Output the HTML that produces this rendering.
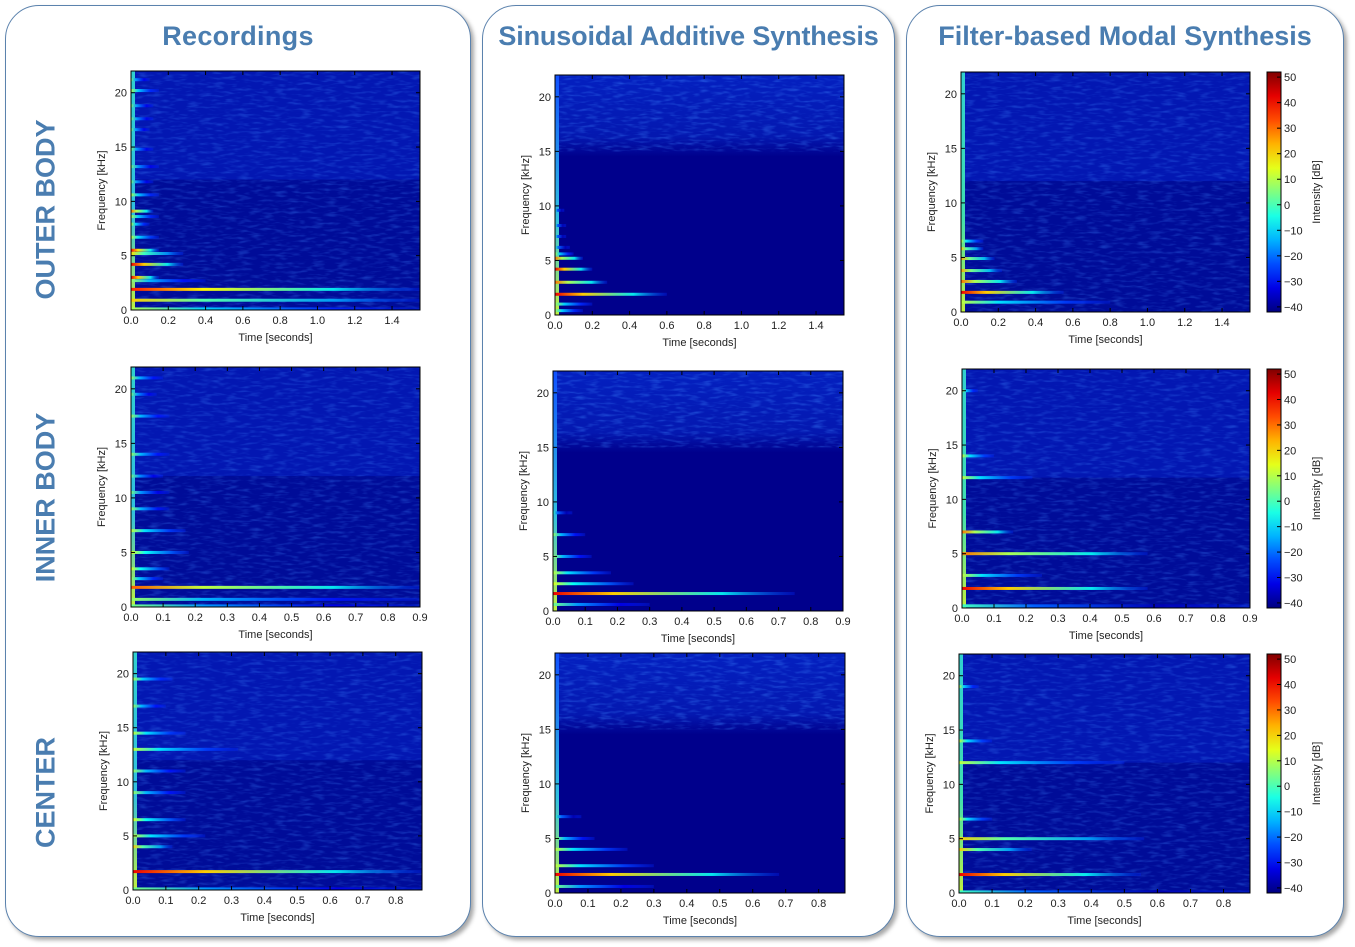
<!DOCTYPE html>
<html><head><meta charset="utf-8">
<style>
html,body{margin:0;padding:0;background:#fff;}
body{width:1355px;height:947px;position:relative;overflow:hidden;font-family:"Liberation Sans",sans-serif;}
.panel{position:absolute;border:1.5px solid #5b82ad;border-radius:34px;box-shadow:3px 3px 4px rgba(0,0,0,0.35);background:#fff;}
.title{position:absolute;top:21px;font-weight:bold;font-size:27px;letter-spacing:0.3px;color:#4a7db0;text-align:center;white-space:nowrap;}
.rowlab{position:absolute;font-weight:bold;font-size:27px;color:#4a7db0;transform:rotate(-90deg);transform-origin:center;white-space:nowrap;text-align:center;width:240px;}
svg{position:absolute;left:0;top:0;}
</style></head><body>
<div class="panel" style="left:5px;top:5px;width:464px;height:930px;"></div>
<div class="panel" style="left:482px;top:5px;width:411px;height:930px;"></div>
<div class="panel" style="left:906px;top:5px;width:436px;height:930px;"></div>
<div class="title" style="left:5px;width:466px;">Recordings</div>
<div class="title" style="left:482px;width:413px;letter-spacing:-0.15px;">Sinusoidal Additive Synthesis</div>
<div class="title" style="left:906px;width:438px;letter-spacing:0px;">Filter-based Modal Synthesis</div>
<div class="rowlab" style="left:-74px;top:194px;">OUTER BODY</div>
<div class="rowlab" style="left:-74px;top:482px;">INNER BODY</div>
<div class="rowlab" style="left:-74px;top:777px;">CENTER</div>
<svg id="chart" width="1355" height="947">
<defs>
<filter id="noise" x="0" y="0" width="100%" height="100%">
<feTurbulence type="fractalNoise" baseFrequency="0.08 0.35" numOctaves="2" seed="3"/>
<feColorMatrix type="matrix" values="0 0 0 0 0.05  0 0 0 0 0.25  0 0 0 0 1  0 0 0 1.6 -0.75"/>
</filter>
<linearGradient id="sinfade" x1="0" y1="0" x2="0" y2="1">
<stop offset="0" stop-color="#0420c0"/><stop offset="0.75" stop-color="#0418b0"/><stop offset="1" stop-color="#00008c"/>
</linearGradient>
</defs>
</svg>
<script>
// partials: [freq kHz, decay seconds, peak dB]
const recOuter=[[0.1,1.55,10],[0.9,1.55,22],[1.9,1.55,38],[2.7,0.4,8],[3.0,0.15,42],[4.2,0.28,42],[5.2,0.28,20],[5.5,0.15,40],[6.7,0.15,12],[7.9,0.1,10],[8.6,0.15,10],[9.1,0.12,30],[10.6,0.15,10],[11.8,0.12,5],[13.2,0.15,5],[14.8,0.12,5],[16.6,0.1,5],[17.6,0.12,5],[18.8,0.12,5],[20.2,0.15,10],[21.2,0.1,5]];
const sinOuter=[[0.4,0.15,10],[1.0,0.2,10],[1.9,0.6,42],[3.0,0.28,30],[4.2,0.2,42],[5.2,0.15,30],[5.6,0.1,10],[6.2,0.08,0],[7.2,0.06,0],[8.2,0.06,0],[9.6,0.05,0]];
const modOuter=[[0.9,0.8,12],[1.8,0.55,42],[2.8,0.3,30],[3.8,0.22,25],[4.9,0.18,25],[5.8,0.12,22],[6.5,0.12,12]];
const recInner=[[0.1,0.9,5],[0.7,0.9,8],[1.8,0.9,32],[2.6,0.1,10],[3.5,0.12,15],[5.0,0.18,15],[7.0,0.17,12],[9.0,0.12,8],[10.5,0.12,5],[12.0,0.1,5],[14.0,0.12,8],[17.5,0.12,8],[19.5,0.08,5],[21.0,0.1,8]];
const sinInner=[[0.6,0.3,5],[1.6,0.75,42],[2.5,0.25,15],[3.5,0.18,12],[5.0,0.12,8],[7.0,0.1,8],[9.0,0.06,0]];
const modInner=[[0.2,0.9,0],[1.8,0.58,42],[3.0,0.25,12],[5.0,0.58,30],[7.0,0.16,30],[12.0,0.22,12],[14.0,0.1,12],[20.0,0.05,10]];
const recCenter=[[0.1,0.88,5],[1.7,0.88,42],[4.0,0.12,22],[5.0,0.22,12],[6.5,0.16,15],[9.0,0.16,8],[11.0,0.16,8],[13.0,0.32,12],[14.5,0.16,12],[17.0,0.1,8],[19.5,0.12,10]];
const sinCenter=[[0.6,0.3,5],[1.7,0.68,42],[2.5,0.3,12],[4.0,0.22,12],[5.0,0.12,8],[7.0,0.08,0]];
const modCenter=[[0.1,0.88,0],[1.7,0.55,42],[4.0,0.22,22],[5.0,0.56,22],[6.8,0.1,12],[12.0,0.5,12],[14.0,0.1,12],[19.0,0.06,10]];
const xticksLong=[0.0,0.2,0.4,0.6,0.8,1.0,1.2,1.4];
const xticks09=[0.0,0.1,0.2,0.3,0.4,0.5,0.6,0.7,0.8,0.9];
const xticks08=[0.0,0.1,0.2,0.3,0.4,0.5,0.6,0.7,0.8];
const yticks=[0,5,10,15,20];
const cbTicks=[50,40,30,20,10,0,-10,-20,-30,-40];

const plots=[
 {name:'rec-outer',x:131,y:71,w:289,h:239,xmax:1.55,xt:xticksLong,p:recOuter,kind:'rec'},
 {name:'sin-outer',x:555,y:75,w:289,h:240,xmax:1.55,xt:xticksLong,p:sinOuter,kind:'sin'},
 {name:'mod-outer',x:961,y:72,w:289,h:240,xmax:1.55,xt:xticksLong,p:modOuter,kind:'mod',cb:1267},
 {name:'rec-inner',x:131,y:367,w:289,h:240,xmax:0.9,xt:xticks09,p:recInner,kind:'rec'},
 {name:'sin-inner',x:553,y:371,w:290,h:240,xmax:0.9,xt:xticks09,p:sinInner,kind:'sin'},
 {name:'mod-inner',x:962,y:369,w:288,h:239,xmax:0.9,xt:xticks09,p:modInner,kind:'mod',cb:1267},
 {name:'rec-center',x:133,y:652,w:289,h:238,xmax:0.88,xt:xticks08,p:recCenter,kind:'rec'},
 {name:'sin-center',x:555,y:653,w:290,h:240,xmax:0.88,xt:xticks08,p:sinCenter,kind:'sin'},
 {name:'mod-center',x:959,y:654,w:291,h:239,xmax:0.88,xt:xticks08,p:modCenter,kind:'mod',cb:1267}
];
const YMAX=22;
const svg=document.getElementById('chart');
const NS='http://www.w3.org/2000/svg';
function mk(tag,attrs,parent){const e=document.createElementNS(NS,tag);for(const k in attrs)e.setAttribute(k,attrs[k]);(parent||svg).appendChild(e);return e;}
function jet(v){v=Math.max(0,Math.min(1,v));
 const r=Math.max(0,Math.min(1,1.5-Math.abs(4*v-3))),g=Math.max(0,Math.min(1,1.5-Math.abs(4*v-2))),b=Math.max(0,Math.min(1,1.5-Math.abs(4*v-1)));
 return 'rgb('+Math.round(r*255)+','+Math.round(g*255)+','+Math.round(b*255)+')';}
function dbc(db){return jet((db+40)/92);}
const defs=svg.querySelector('defs');
let gid=0;
plots.forEach(P=>{
 const g=mk('g',{});
 
 
 const xs=t=>P.x+t/P.xmax*P.w, ys=f=>P.y+P.h-f/YMAX*P.h;
 const clip=mk('clipPath',{id:'c'+P.name},defs);mk('rect',{x:P.x,y:P.y,width:P.w,height:P.h},clip);
 const area=mk('g',{'clip-path':'url(#c'+P.name+')'},g);
 mk('rect',{x:P.x,y:P.y,width:P.w,height:P.h,fill:P.kind==='sin'?'#00008c':'#000c98'},area);
 if(P.kind==='sin'){mk('rect',{x:P.x,y:P.y,width:P.w,height:ys(14.5)-P.y,fill:'url(#sinfade)'},area);
  mk('rect',{x:P.x,y:P.y,width:P.w,height:ys(15)-P.y,fill:'#000',filter:'url(#noise)',opacity:0.6},area);}
 else{mk('rect',{x:P.x,y:P.y,width:P.w,height:ys(12)-P.y,fill:'#0620c8',opacity:0.55},area);
  mk('rect',{x:P.x,y:P.y,width:P.w,height:P.h,fill:'#000',filter:'url(#noise)',opacity:0.5},area);}
 const sg='g'+(gid++);const lg=mk('linearGradient',{id:sg,x1:0,y1:0,x2:0,y2:1},defs);
 mk('stop',{offset:0,'stop-color':P.kind==='sin'?'#1050ff':'#30d0d0'},lg);
 mk('stop',{offset:0.6,'stop-color':P.kind==='mod'?'#40e0b0':'#30c0e0'},lg);
 mk('stop',{offset:1,'stop-color':'#c0f040'},lg);
 mk('rect',{x:P.x,y:P.y,width:Math.max(4,xs(0.012)-P.x),height:P.h,fill:'url(#'+sg+')'},area);
 P.p.forEach((pt,i)=>{
  const [f,d,db]=pt;const id='g'+(gid++);
  const lgp=mk('linearGradient',{id:id,x1:0,y1:0,x2:1,y2:0},defs);
  mk('stop',{offset:0,'stop-color':dbc(db)},lgp);
  mk('stop',{offset:0.25,'stop-color':dbc(db-20)},lgp);
  mk('stop',{offset:0.7,'stop-color':dbc(Math.min(db-35,-5)),'stop-opacity':0.9},lgp);
  mk('stop',{offset:1,'stop-color':dbc(-25),'stop-opacity':0.3},lgp);
  const r=mk('rect',{x:P.x,y:ys(f)-1.5,width:xs(d)-P.x,height:3,fill:'url(#'+id+')'},area);
  
  
 });
 mk('rect',{x:P.x,y:P.y,width:P.w,height:P.h,fill:'none',stroke:'#000','stroke-width':1},g);
 P.xt.forEach(t=>{const X=xs(t);
  mk('line',{x1:X,y1:P.y+P.h,x2:X,y2:P.y+P.h-4,stroke:'#000'},g);
  mk('line',{x1:X,y1:P.y,x2:X,y2:P.y+4,stroke:'#000'},g);
  const tx=mk('text',{x:X,y:P.y+P.h+14,'font-size':11,'text-anchor':'middle',fill:'#222'},g);tx.textContent=t.toFixed(1);});
 yticks.forEach(v=>{const Y=ys(v);
  mk('line',{x1:P.x,y1:Y,x2:P.x+4,y2:Y,stroke:'#000'},g);
  mk('line',{x1:P.x+P.w,y1:Y,x2:P.x+P.w-4,y2:Y,stroke:'#000'},g);
  const tx=mk('text',{x:P.x-4,y:Y+4,'font-size':11,'text-anchor':'end',fill:'#222'},g);tx.textContent=v;});
 const xl=mk('text',{x:P.x+P.w/2,y:P.y+P.h+31,'font-size':11,'text-anchor':'middle',fill:'#222'},g);xl.textContent='Time [seconds]';
 const yl=mk('text',{x:0,y:0,'font-size':11,'text-anchor':'middle',fill:'#222',transform:'translate('+(P.x-26)+','+(P.y+P.h/2)+') rotate(-90)'},g);yl.textContent='Frequency [kHz]';
 if(P.cb){
  const cg=mk('g',{},g);
  
  
  const cid='g'+(gid++);const cl=mk('linearGradient',{id:cid,x1:0,y1:1,x2:0,y2:0},defs);
  for(let k=0;k<=10;k++)mk('stop',{offset:k/10,'stop-color':jet(k/10)},cl);
  const DMIN=-42,DMAX=52,cy=db=>P.y+P.h-(db-DMIN)/(DMAX-DMIN)*P.h;
  mk('rect',{x:P.cb,y:P.y,width:14,height:P.h,fill:'url(#'+cid+')',stroke:'#000','stroke-width':1},cg);
  cbTicks.forEach(v=>{const Y=cy(v);
   mk('line',{x1:P.cb+10,y1:Y,x2:P.cb+14,y2:Y,stroke:'#000'},cg);
   const tx=mk('text',{x:P.cb+17,y:Y+4,'font-size':11,fill:'#222'},cg);tx.textContent=v<0?'\u2212'+(-v):v;});
  const il=mk('text',{x:0,y:0,'font-size':11,'text-anchor':'middle',fill:'#222',transform:'translate('+(P.cb+53)+','+(P.y+P.h/2)+') rotate(-90)'},cg);il.textContent='Intensity [dB]';
 }
});
</script>
</body></html>
